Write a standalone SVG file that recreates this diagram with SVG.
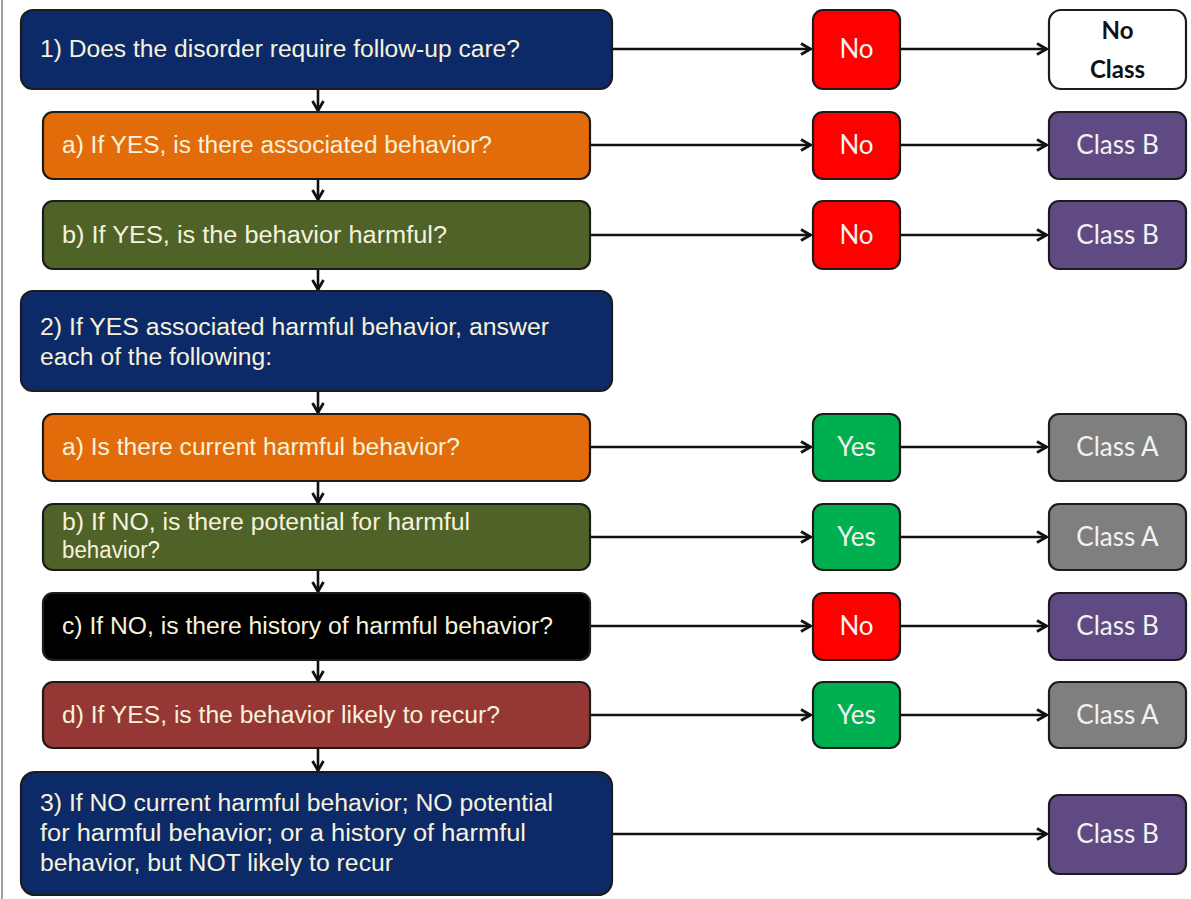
<svg xmlns="http://www.w3.org/2000/svg" width="1191" height="899" viewBox="0 0 1191 899">
<defs>
<style>
.box{stroke:#1c1c1c;stroke-width:2.2}
.q{font-family:"Liberation Sans",Arial,sans-serif;font-size:23px;fill:#f6f2dc}
.t{font-family:Lato,"Noto Sans",sans-serif;font-size:26px;fill:#f2f2f2;text-anchor:middle}
.w{font-family:Lato,"Noto Sans",sans-serif;font-size:24px;font-weight:bold;fill:#111;text-anchor:middle}
.navy{fill:#0d2a68}.orange{fill:#e36c0a}.olive{fill:#4f6228}.black{fill:#000}.brown{fill:#953735}
.red{fill:#ff0000}.green{fill:#00b050}.purple{fill:#5f4a84}.grey{fill:#7f7f7f}.white{fill:#fff}
.c line{stroke:#111;stroke-width:2.6}
</style>
<marker id="ah" viewBox="0 0 14 14" refX="13" refY="7" markerWidth="14" markerHeight="14" markerUnits="userSpaceOnUse" orient="auto">
<path d="M3,1.5 L12.5,7 L3,12.5" fill="none" stroke="#111" stroke-width="2.8"/>
</marker>
</defs>
<rect width="1191" height="899" fill="#fff"/>
<line x1="2" y1="0" x2="2" y2="899" stroke="#a0a0a0" stroke-width="2"/>

<g class="c">
<line x1="612" y1="49" x2="811" y2="49" marker-end="url(#ah)"/>
<line x1="900" y1="49" x2="1047" y2="49" marker-end="url(#ah)"/>
<line x1="590" y1="145" x2="811" y2="145" marker-end="url(#ah)"/>
<line x1="900" y1="145" x2="1047" y2="145" marker-end="url(#ah)"/>
<line x1="590" y1="235" x2="811" y2="235" marker-end="url(#ah)"/>
<line x1="900" y1="235" x2="1047" y2="235" marker-end="url(#ah)"/>
<line x1="590" y1="447" x2="811" y2="447" marker-end="url(#ah)"/>
<line x1="900" y1="447" x2="1047" y2="447" marker-end="url(#ah)"/>
<line x1="590" y1="537" x2="811" y2="537" marker-end="url(#ah)"/>
<line x1="900" y1="537" x2="1047" y2="537" marker-end="url(#ah)"/>
<line x1="590" y1="626" x2="811" y2="626" marker-end="url(#ah)"/>
<line x1="900" y1="626" x2="1047" y2="626" marker-end="url(#ah)"/>
<line x1="590" y1="715" x2="811" y2="715" marker-end="url(#ah)"/>
<line x1="900" y1="715" x2="1047" y2="715" marker-end="url(#ah)"/>
<line x1="612" y1="834" x2="1047" y2="834" marker-end="url(#ah)"/>
<line x1="318" y1="89" x2="318" y2="111" marker-end="url(#ah)"/>
<line x1="318" y1="179" x2="318" y2="200" marker-end="url(#ah)"/>
<line x1="318" y1="269" x2="318" y2="290" marker-end="url(#ah)"/>
<line x1="318" y1="391" x2="318" y2="413" marker-end="url(#ah)"/>
<line x1="318" y1="481" x2="318" y2="503" marker-end="url(#ah)"/>
<line x1="318" y1="570" x2="318" y2="592" marker-end="url(#ah)"/>
<line x1="318" y1="660" x2="318" y2="681" marker-end="url(#ah)"/>
<line x1="318" y1="748" x2="318" y2="771" marker-end="url(#ah)"/>
</g>

<g id="q1"><rect class="box navy" x="21" y="10" width="591" height="79" rx="12"/>
<text class="q" x="40" y="57" textLength="480" lengthAdjust="spacingAndGlyphs">1) Does the disorder require follow-up care?</text></g>
<g id="q1a"><rect class="box orange" x="43" y="112" width="547" height="67" rx="10"/>
<text class="q" x="62" y="153" textLength="430" lengthAdjust="spacingAndGlyphs">a) If YES, is there associated behavior?</text></g>
<g id="q1b"><rect class="box olive" x="43" y="201" width="547" height="68" rx="10"/>
<text class="q" x="62" y="243" textLength="385" lengthAdjust="spacingAndGlyphs">b) If YES, is the behavior harmful?</text></g>
<g id="q2"><rect class="box navy" x="21" y="291" width="591" height="100" rx="12"/>
<text class="q" x="40" y="335" textLength="509" lengthAdjust="spacingAndGlyphs">2) If YES associated harmful behavior, answer</text>
<text class="q" x="40" y="365" textLength="232" lengthAdjust="spacingAndGlyphs">each of the following:</text></g>
<g id="q2a"><rect class="box orange" x="43" y="414" width="547" height="67" rx="10"/>
<text class="q" x="62" y="455" textLength="398" lengthAdjust="spacingAndGlyphs">a) Is there current harmful behavior?</text></g>
<g id="q2b"><rect class="box olive" x="43" y="504" width="547" height="66" rx="10"/>
<text class="q" x="62" y="530" textLength="408" lengthAdjust="spacingAndGlyphs">b) If NO, is there potential for harmful</text>
<text class="q" x="62" y="558" textLength="98" lengthAdjust="spacingAndGlyphs">behavior?</text></g>
<g id="q2c"><rect class="box black" x="43" y="593" width="547" height="67" rx="10"/>
<text class="q" x="62" y="634" textLength="491" lengthAdjust="spacingAndGlyphs">c) If NO, is there history of harmful behavior?</text></g>
<g id="q2d"><rect class="box brown" x="43" y="682" width="547" height="66" rx="10"/>
<text class="q" x="62" y="723" textLength="438" lengthAdjust="spacingAndGlyphs">d) If YES, is the behavior likely to recur?</text></g>
<g id="q3"><rect class="box navy" x="21" y="772" width="591" height="123" rx="14"/>
<text class="q" x="40" y="811" textLength="513" lengthAdjust="spacingAndGlyphs">3) If NO current harmful behavior; NO potential</text>
<text class="q" x="40" y="841" textLength="486" lengthAdjust="spacingAndGlyphs">for harmful behavior; or a history of harmful</text>
<text class="q" x="40" y="871" textLength="353" lengthAdjust="spacingAndGlyphs">behavior, but NOT likely to recur</text></g>

<g id="a1"><rect class="box red" x="813" y="10" width="87" height="79" rx="10"/><text class="t" x="856.5" y="58">No</text></g>
<g id="a1a"><rect class="box red" x="813" y="112" width="87" height="67" rx="10"/><text class="t" x="856.5" y="154">No</text></g>
<g id="a1b"><rect class="box red" x="813" y="201" width="87" height="68" rx="10"/><text class="t" x="856.5" y="244">No</text></g>
<g id="a2a"><rect class="box green" x="813" y="414" width="87" height="67" rx="10"/><text class="t" x="856.5" y="456">Yes</text></g>
<g id="a2b"><rect class="box green" x="813" y="504" width="87" height="66" rx="10"/><text class="t" x="856.5" y="546">Yes</text></g>
<g id="a2c"><rect class="box red" x="813" y="593" width="87" height="67" rx="10"/><text class="t" x="856.5" y="635">No</text></g>
<g id="a2d"><rect class="box green" x="813" y="682" width="87" height="66" rx="10"/><text class="t" x="856.5" y="724">Yes</text></g>

<g id="r1"><rect class="box white" x="1049" y="10" width="137" height="79" rx="12"/>
<text class="w" x="1117.5" y="39">No</text><text class="w" x="1117.5" y="78">Class</text></g>
<g id="r1a"><rect class="box purple" x="1049" y="112" width="137" height="67" rx="10"/><text class="t" x="1117.5" y="154">Class B</text></g>
<g id="r1b"><rect class="box purple" x="1049" y="201" width="137" height="68" rx="10"/><text class="t" x="1117.5" y="244">Class B</text></g>
<g id="r2a"><rect class="box grey" x="1049" y="414" width="137" height="67" rx="10"/><text class="t" x="1117.5" y="456">Class A</text></g>
<g id="r2b"><rect class="box grey" x="1049" y="504" width="137" height="66" rx="10"/><text class="t" x="1117.5" y="546">Class A</text></g>
<g id="r2c"><rect class="box purple" x="1049" y="593" width="137" height="67" rx="10"/><text class="t" x="1117.5" y="635">Class B</text></g>
<g id="r2d"><rect class="box grey" x="1049" y="682" width="137" height="66" rx="10"/><text class="t" x="1117.5" y="724">Class A</text></g>
<g id="r3"><rect class="box purple" x="1049" y="795" width="137" height="79" rx="10"/><text class="t" x="1117.5" y="843">Class B</text></g>
</svg>
